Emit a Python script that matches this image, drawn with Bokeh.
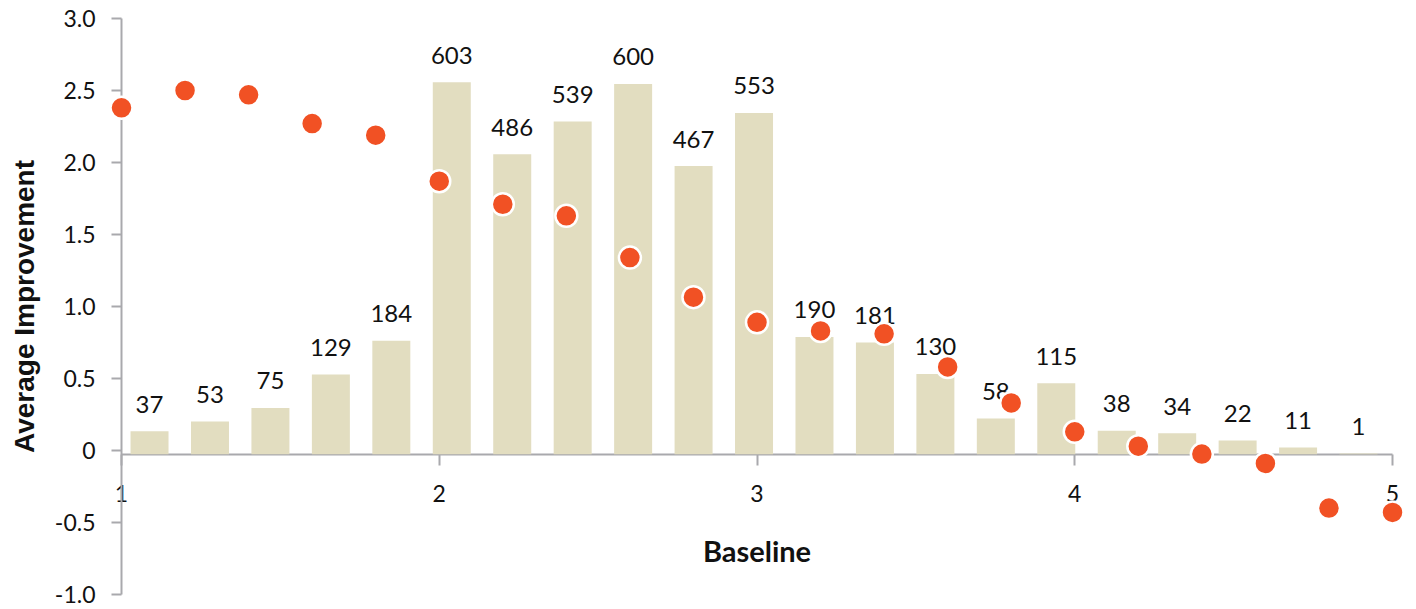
from bokeh.plotting import figure
from bokeh.models import Range1d, FixedTicker, ColumnDataSource
from bokeh.core.properties import value
from bokeh.embed import file_html
from bokeh.resources import INLINE

# ---- data ----
baseline = [1.0, 1.2, 1.4, 1.6, 1.8, 2.0, 2.2, 2.4, 2.6, 2.8, 3.0,
            3.2, 3.4, 3.6, 3.8, 4.0, 4.2, 4.4, 4.6, 4.8, 5.0]
avg_improvement = [2.38, 2.50, 2.47, 2.27, 2.19, 1.87, 1.71, 1.63, 1.34, 1.065, 0.89,
                   0.83, 0.81, 0.58, 0.33, 0.13, 0.03, -0.025, -0.09, -0.40, -0.43]
bar_index = [0, 1, 2, 3, 4, 5, 6, 7, 8, 9, 10, 11, 12, 13, 14, 15, 16, 17, 18, 19, 20]
counts = [37, 53, 75, 129, 184, 603, 486, 539, 600, 467, 553,
          190, 181, 130, 58, 115, 38, 34, 22, 11, 1]
y_ticks = [-1.0, -0.5, 0.0, 0.5, 1.0, 1.5, 2.0, 2.5, 3.0]
y_tick_labels = ["-1.0", "-0.5", "0", "0.5", "1.0", "1.5", "2.0", "2.5", "3.0"]
x_ticks = [1, 2, 3, 4, 5]
x_tick_labels = ["1", "2", "3", "4", "5"]

AXIS_GREY = "#a9a9ad"
BAR_COLOR = "#e2ddc0"
DOT_COLOR = "#f15124"

bar_src = ColumnDataSource(dict(
    x=[i + 0.5 for i in bar_index],
    count=counts,
    label=[str(c) for c in counts],
))
dot_src = ColumnDataSource(dict(x=baseline, y=avg_improvement))

p = figure(width=1416, height=609,
           x_range=Range1d(0.6192, 5.0755), y_range=Range1d(-1.1042, 3.125),
           output_backend="svg", toolbar_location=None,
           min_border_left=0, min_border_right=0, min_border_top=0, min_border_bottom=0)
p.extra_x_ranges = {"bars": Range1d(-1.9653, 21.459)}
p.extra_y_ranges = {"count": Range1d(-251.7, 735.3)}

p.outline_line_color = None
p.grid.visible = False
p.background_fill_color = "white"
p.border_fill_color = "white"

# bars
p.vbar(x="x", top="count", bottom=0, width=0.6286, source=bar_src,
       x_range_name="bars", y_range_name="count",
       fill_color=BAR_COLOR, line_color=None)
p.text(x="x", y="count", text="label", source=bar_src,
       x_range_name="bars", y_range_name="count",
       text_align="center", text_baseline="alphabetic", y_offset=-27,
       text_font=value("Lato"), text_font_size="24px", text_color="#111111")

# dots
p.scatter(x="x", y="y", source=dot_src, size=22, fill_color=DOT_COLOR,
          line_color="white", line_width=2.5)

# x axis at zero
xa = p.xaxis[0]
xa.y_range_name = "count"
xa.fixed_location = 0
xa.bounds = (1, 5)
xa.ticker = FixedTicker(ticks=x_ticks)
xa.major_label_overrides = dict(zip(x_ticks, x_tick_labels))
xa.axis_line_color = AXIS_GREY
xa.axis_line_width = 2
xa.major_tick_line_color = AXIS_GREY
xa.major_tick_line_width = 2
xa.major_tick_out = 11
xa.major_tick_in = 0
xa.minor_tick_line_color = None
xa.major_label_standoff = 20
xa.major_label_text_font = "Lato"
xa.major_label_text_font_size = "23px"
xa.major_label_text_color = "#111111"
xa.axis_label = "Baseline"
xa.axis_label_text_font = "Lato"
xa.axis_label_text_font_style = "bold"
xa.axis_label_text_font_size = "29px"
xa.axis_label_text_color = "#111111"
xa.axis_label_standoff = 27
xa.level = "underlay"

# y axis at x = 1
ya = p.yaxis[0]
ya.fixed_location = 1
ya.bounds = (-1, 3)
ya.ticker = FixedTicker(ticks=y_ticks)
ya.major_label_overrides = dict(zip(y_ticks, y_tick_labels))
ya.axis_line_color = AXIS_GREY
ya.axis_line_width = 2
ya.major_tick_line_color = AXIS_GREY
ya.major_tick_line_width = 2
ya.major_tick_out = 10
ya.major_tick_in = 0
ya.minor_tick_line_color = None
ya.major_label_standoff = 16
ya.major_label_text_font = "Lato"
ya.major_label_text_font_size = "23px"
ya.major_label_text_color = "#111111"
ya.axis_label = "Average Improvement"
ya.axis_label_text_font = "Liberation Sans"
ya.axis_label_text_font_style = "bold"
ya.axis_label_text_font_size = "28px"
ya.axis_label_text_color = "#111111"
ya.axis_label_standoff = 12
ya.level = "underlay"

open("out.html", "w").write(file_html(p, INLINE))
